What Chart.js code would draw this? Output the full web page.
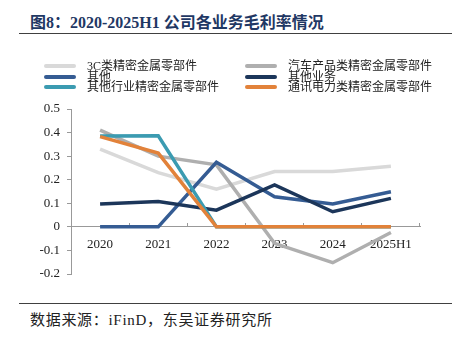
<!DOCTYPE html>
<html>
<head>
<meta charset="utf-8">
<script src="https://cdn.jsdelivr.net/npm/chart.js@4/dist/chart.umd.min.js"></script>
<style>
  body { margin: 0; width: 455px; height: 341px; background: #fff; position: relative; overflow: hidden;
         font-family: "Liberation Serif", "Noto Sans CJK SC", serif; }
  #title { position: absolute; left: 30px; top: 9px; font-size: 16px; font-weight: bold; color: #1f3864; white-space: nowrap; }
  .rule { position: absolute; left: 19px; width: 433px; height: 1px; background: #404040; }
  #source { position: absolute; left: 30px; top: 311px; font-size: 15px; line-height: 18px; letter-spacing: 0.7px; color: #222; white-space: nowrap; }
  #legend { position: absolute; left: 0; top: 0; }
  .item { position: absolute; font-size: 12px; line-height: 12px; color: #222; white-space: nowrap; }
  .swatch { position: absolute; height: 4px; width: 32px; border-radius: 2px; }
  canvas { position: absolute; left: 0; top: 0; }
</style>
</head>
<body>
<div id="title">图8：2020-2025H1 公司各业务毛利率情况</div>
<div class="rule" style="top:33px"></div>
<div class="rule" style="top:303px"></div>
<div id="source">数据来源：iFinD，东吴证券研究所</div>
<canvas id="chart" width="455" height="341"></canvas>
<div id="legend"></div>
<script>
const categories = ['2020', '2021', '2022', '2023', '2024', '2025H1'];
const seriesNames = ['3C类精密金属零部件', '汽车产品类精密金属零部件', '其他', '其他业务', '其他行业精密金属零部件', '通讯电力类精密金属零部件'];
const seriesColors = ['#d9d9d9', '#afafaf', '#355c93', '#1c365a', '#3b9bb1', '#e2823a'];

const s3C = [0.33, 0.23, 0.16, 0.235, 0.235, 0.257];
const sAuto = [0.41, 0.30, 0.263, -0.07, -0.152, -0.024];
const sOther = [0, 0, 0.274, 0.128, 0.097, 0.149];
const sOtherBiz = [0.097, 0.108, 0.071, 0.178, 0.064, 0.121];
const sOtherInd = [0.385, 0.386, 0, 0, 0, 0];
const sTelecom = [0.383, 0.313, 0, 0, 0, 0];
const seriesValues = [s3C, sAuto, sOther, sOtherBiz, sOtherInd, sTelecom];

const yTicks = [-0.2, -0.1, 0, 0.1, 0.2, 0.3, 0.4, 0.5];

// legend in two columns, row-major like the original
const legend = document.getElementById('legend');
seriesNames.forEach((name, i) => {
    const col = i % 2, row = Math.floor(i / 2);
    const lineX = col === 0 ? 44 : 245;
    const textX = col === 0 ? 87 : 288;
    const cy = 66 + row * 10.5;
    const sw = document.createElement('div');
    sw.className = 'swatch';
    sw.style.left = lineX + 'px';
    sw.style.top = (cy - 2) + 'px';
    sw.style.background = seriesColors[i];
    legend.appendChild(sw);
    const t = document.createElement('div');
    t.className = 'item';
    t.style.left = textX + 'px';
    t.style.top = (cy - 6) + 'px';
    t.textContent = name;
    legend.appendChild(t);
});

const ctx = document.getElementById('chart').getContext('2d');
new Chart(ctx, {
    type: 'line',
    data: {
        labels: categories,
        datasets: seriesValues.map((vals, i) => ({
            label: seriesNames[i],
            data: vals,
            borderColor: seriesColors[i],
            backgroundColor: seriesColors[i],
            borderWidth: 3.5,
            pointRadius: 0,
            tension: 0,
            fill: false,
            order: seriesValues.length - i // later series on top
        }))
    },
    options: {
        responsive: false,
        animation: false,
        layout: { padding: { top: 109, bottom: 67, left: 0, right: 35 } },
        plugins: { legend: { display: false }, tooltip: { enabled: false } },
        scales: {
            x: {
                position: { y: 0 },
                offset: true,
                grid: { drawOnChartArea: false, drawTicks: true, tickLength: -4, color: '#999', offset: true },
                border: { display: true, color: '#999', width: 1 },
                ticks: { padding: 14, color: '#222', font: { family: 'Liberation Serif', size: 13 }, maxRotation: 0 }
            },
            y: {
                min: -0.2,
                max: 0.5,
                afterBuildTicks: scale => { scale.ticks = yTicks.map(v => ({ value: v })); },
                afterFit: scale => { scale.width = 71; },
                grid: { drawOnChartArea: false, drawTicks: true, tickLength: 4, color: '#999' },
                border: { display: true, color: '#999', width: 1 },
                ticks: { padding: 7, color: '#222', font: { family: 'Liberation Serif', size: 13 },
                         callback: v => String(Math.round(v * 10) / 10) }
            }
        }
    }
});
</script>
</body>
</html>
